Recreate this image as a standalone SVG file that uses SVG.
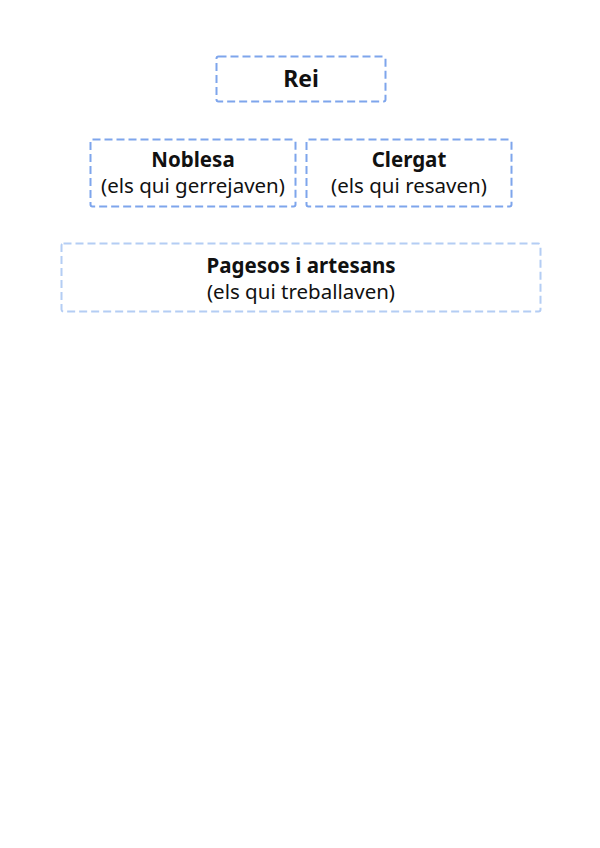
<svg xmlns="http://www.w3.org/2000/svg" width="600" height="848" viewBox="0 0 600 848">
<style>
.box{fill:#fff;stroke:#7ea5ec;stroke-width:2;stroke-dasharray:8 4}
.light{stroke:#b4cdf4}
.t{font-family:"Noto Sans","DejaVu Sans",sans-serif;text-anchor:middle;fill:#111}
.b{font-weight:bold;font-size:20.5px}
.s{font-size:20.5px}
</style>
<rect width="600" height="848" fill="#fff"/>
<g id="rei">
<rect class="box" x="216.5" y="56.5" width="169" height="45" rx="2"/>
<text class="t b" x="301" y="87" style="font-size:23px">Rei</text>
</g>
<g id="noblesa">
<rect class="box" x="90.5" y="139.5" width="205" height="67" rx="2"/>
<text class="t b" x="193" y="167">Noblesa</text>
<text class="t s" x="193" y="193">(els qui gerrejaven)</text>
</g>
<g id="clergat">
<rect class="box" x="306.5" y="139.5" width="205" height="67" rx="2"/>
<text class="t b" x="409" y="167">Clergat</text>
<text class="t s" x="409" y="193">(els qui resaven)</text>
</g>
<g id="pagesos">
<rect class="box light" x="61.5" y="243.5" width="479" height="68" rx="2"/>
<text class="t b" x="301" y="273">Pagesos i artesans</text>
<text class="t s" x="301" y="299">(els qui treballaven)</text>
</g>
<g id="connectors"></g>
</svg>
